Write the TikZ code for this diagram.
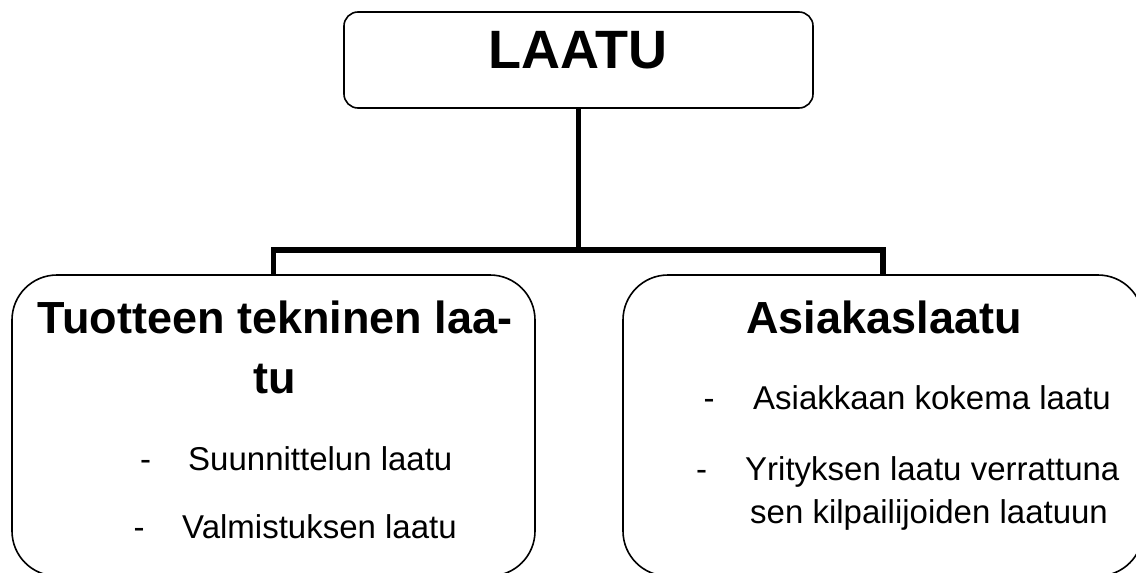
\documentclass[tikz,border=0pt]{standalone}
\usepackage{fontspec}
\setmainfont{Liberation Sans}

\begin{document}
\begin{tikzpicture}[x=1pt,y=-1pt,
    box/.style={draw, line width=1.6pt, rounded corners=#1, inner sep=0pt},
    conn/.style={line width=5.5pt, line join=miter},
    head/.style={inner sep=0pt, anchor=base, font=\fontsize{45}{54}\selectfont\bfseries},
    item/.style={inner sep=0pt, anchor=base west, font=\fontsize{33}{40}\selectfont},
    dashmark/.style={inner sep=0pt, anchor=base, font=\fontsize{33}{40}\selectfont}]

\useasboundingbox (0,0) rectangle (1136,573);

% ===== Laatikot =====
\node[box=14pt, minimum width=469pt, minimum height=96pt] (laatu) at (578.5,60) {};
\node[box=45pt, minimum width=523pt, minimum height=301pt] (tekn) at (273.5,425.5) {};
\node[box=45pt, minimum width=520pt, minimum height=301pt] (asiak) at (883,425.5) {};

% ===== Yhdysviivat =====
\coordinate (split) at (578.5,250);
\draw[conn] (laatu.south) -- (split);
\draw[conn] (tekn.north) -- (tekn.north |- split) -| (asiak.north);

% ===== Otsikot =====
\node[inner sep=0pt, anchor=base, font=\fontsize{54}{60}\selectfont\bfseries] (laatuText) at (578,68) {LAATU};
\node[head] (teknA) at (275,333) {Tuotteen tekninen laa-};
\node[head] (teknB) at (275,393) {tu};
\node[head] (asiakText) at (884,333) {Asiakaslaatu};

% ===== Luettelot =====
\node[dashmark] (d1) at (145.5,470) {-};
\node[item] (suun) at (188,470) {Suunnittelun laatu};
\node[dashmark] (d2) at (139,538) {-};
\node[item] (valm) at (182,538) {Valmistuksen laatu};

\node[dashmark] (d3) at (709,409) {-};
\node[item] (koke) at (753,409) {Asiakkaan kokema laatu};
\node[dashmark] (d4) at (701.5,480) {-};
\node[item] (yrit) at (745,480) {Yrityksen laatu verrattuna};
\node[item] (kilp) at (750,523) {sen kilpailijoiden laatuun};

\end{tikzpicture}
\end{document}
